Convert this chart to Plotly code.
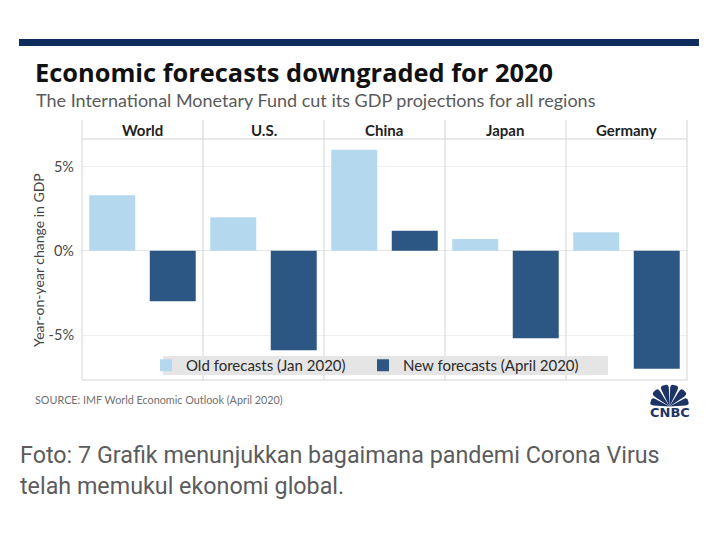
import math
import plotly.graph_objects as go

# The page body has an 8px default margin, so the figure is drawn 8px in
# from the window edge; figure size and pixel mapping account for that.
OFF = 8
W, H = 718 - OFF, 554 - OFF

# ---------------- data ----------------
regions = ["World", "U.S.", "China", "Japan", "Germany"]
old_forecasts = [3.3, 2.0, 6.0, 0.7, 1.1]      # Jan 2020 projections (%)
new_forecasts = [-3.0, -5.9, 1.2, -5.2, -7.0]  # April 2020 projections (%)
series_names = ["Old forecasts (Jan 2020)", "New forecasts (April 2020)"]
bar_slots = ["Old", "New"]
y_tick_values = [-5, 0, 5]
y_tick_labels = ["-5%", "0%", "5%"]

title_text = "Economic forecasts downgraded for 2020"
subtitle_text = "The International Monetary Fund cut its GDP projections for all regions"
y_title = "Year-on-year change in GDP"
source_text = "SOURCE: IMF World Economic Outlook (April 2020)"
caption_lines = ["Foto: 7 Grafik menunjukkan bagaimana pandemi Corona Virus",
                 "telah memukul ekonomi global."]

# ---------------- style ----------------
OLD_COLOR = "#b4d8ee"
NEW_COLOR = "#2c5785"
NAVY = "#0f2d5c"
LINE = "#d4d4d4"
FONT = "Lato, 'Open Sans', sans-serif"
TITLE_FONT = "'Open Sans', Lato, sans-serif"


def px(x):
    return (x - OFF) / W


def py(y):
    return 1 - (y - OFF) / H


PLOT_L, PLOT_R = 82, 687
HEAD_T, PLOT_T, PLOT_B = 120, 139, 380
n = len(regions)
pw = (PLOT_R - PLOT_L) / n
# y range derived from pixel geometry (0% at y=250.85, 16.83 px per %)
zero_px, per_pct = 250.85, 16.83
y_range = [(zero_px - PLOT_B) / per_pct, (zero_px - PLOT_T) / per_pct]

fig = go.Figure()
layout = dict(
    width=W, height=H,
    margin=dict(l=0, r=0, t=0, b=0),
    paper_bgcolor="white", plot_bgcolor="rgba(0,0,0,0)",
    barmode="relative", bargap=0.24,
    showlegend=True,
    legend=dict(orientation="h", x=px(146), y=py(365.5), xanchor="left", yanchor="middle",
                bgcolor="rgba(0,0,0,0)", borderwidth=0,
                font=dict(family=FONT, size=15, color="#2a2a2a"),
                entrywidth=172, entrywidthmode="pixels", traceorder="normal"),
    font=dict(family=FONT),
)

for i, region in enumerate(regions):
    ax = "" if i == 0 else str(i + 1)
    fig.add_trace(go.Bar(x=[bar_slots[0]], y=[old_forecasts[i]], name=series_names[0],
                         marker=dict(color=OLD_COLOR, line=dict(width=0)),
                         legendgroup="old", showlegend=(i == 0),
                         xaxis="x" + ax, yaxis="y" + ax))
    fig.add_trace(go.Bar(x=[bar_slots[1]], y=[new_forecasts[i]], name=series_names[1],
                         marker=dict(color=NEW_COLOR, line=dict(width=0)),
                         legendgroup="new", showlegend=(i == 0),
                         xaxis="x" + ax, yaxis="y" + ax))
    x0 = PLOT_L + i * pw
    layout["xaxis" + ax] = dict(domain=[px(x0), px(x0 + pw)], type="category",
                                categoryorder="array", categoryarray=bar_slots,
                                range=[-0.5, 1.5], showticklabels=False, showgrid=False,
                                zeroline=False, showline=False, fixedrange=True,
                                anchor="y" + ax)
    yax = dict(domain=[py(PLOT_B), py(PLOT_T)], range=y_range, tickvals=y_tick_values,
               ticktext=y_tick_labels, showgrid=True, gridcolor="#efefef", gridwidth=1,
               zeroline=True, zerolinecolor="#e6e6e6", zerolinewidth=1,
               showline=False, fixedrange=True, anchor="x" + ax,
               showticklabels=(i == 0), ticks="", ticklabelstandoff=7,
               tickfont=dict(family=FONT, size=14.5, color="#484848"))
    if i > 0:
        yax["matches"] = "y"
    layout["yaxis" + ax] = yax

shapes = []
# top navy band
shapes.append(dict(type="rect", xref="paper", yref="paper", x0=px(19), x1=px(699),
                   y0=py(46), y1=py(39), fillcolor=NAVY, line=dict(width=0), layer="above"))
# panel dividers / frame
for i in range(n + 1):
    xx = PLOT_L + i * pw
    shapes.append(dict(type="line", xref="paper", yref="paper", x0=px(xx), x1=px(xx),
                       y0=py(PLOT_B), y1=py(HEAD_T), line=dict(color=LINE, width=1), layer="above"))
shapes.append(dict(type="line", xref="paper", yref="paper", x0=px(PLOT_L), x1=px(PLOT_R),
                   y0=py(PLOT_T), y1=py(PLOT_T), line=dict(color=LINE, width=1), layer="above"))
shapes.append(dict(type="line", xref="paper", yref="paper", x0=px(PLOT_L), x1=px(PLOT_R),
                   y0=py(PLOT_B), y1=py(PLOT_B), line=dict(color=LINE, width=1), layer="above"))
# legend background box
shapes.append(dict(type="rect", xref="paper", yref="paper", x0=px(163), x1=px(608),
                   y0=py(375), y1=py(356), fillcolor="#e5e5e5", line=dict(width=0), layer="above"))

# CNBC peacock (six feathers)
bx, by = 669.5, 406.5
for ang, r in zip([-74, -44, -14, 14, 44, 74], [19.5, 21.5, 22, 22, 21.5, 19.5]):
    hw = 12
    a1, a2, ac = math.radians(ang - hw), math.radians(ang + hw), math.radians(ang)
    r1 = r * 0.82
    p1 = (bx + r1 * math.sin(a1), by - r1 * math.cos(a1))
    p2 = (bx + r1 * math.sin(a2), by - r1 * math.cos(a2))
    c1 = (bx + r * 1.05 * math.sin(a1), by - r * 1.05 * math.cos(a1))
    c2 = (bx + r * 1.05 * math.sin(a2), by - r * 1.05 * math.cos(a2))
    tip = (bx + r * math.sin(ac), by - r * math.cos(ac))
    path = (f"M {px(bx)},{py(by)} L {px(p1[0])},{py(p1[1])} "
            f"Q {px(c1[0])},{py(c1[1])} {px(tip[0])},{py(tip[1])} "
            f"Q {px(c2[0])},{py(c2[1])} {px(p2[0])},{py(p2[1])} Z")
    shapes.append(dict(type="path", xref="paper", yref="paper", path=path,
                       fillcolor="#1d3566", line=dict(width=0), layer="above"))
layout["shapes"] = shapes

ann = []
ann.append(dict(text=f"<b>{title_text}</b>", x=px(33), y=py(72), xanchor="left", yanchor="middle",
                font=dict(family=TITLE_FONT, size=25.4, color="#111111")))
ann.append(dict(text=subtitle_text, x=px(34), y=py(100), xanchor="left", yanchor="middle",
                font=dict(family=FONT, size=18, color="#5a5a5a")))
for i, region in enumerate(regions):
    ann.append(dict(text=f"<b>{region}</b>", x=px(PLOT_L + (i + 0.5) * pw), y=py(130),
                    xanchor="center", yanchor="middle",
                    font=dict(family=FONT, size=15, color="#222222")))
ann.append(dict(text=y_title, x=px(38), y=py(260), xanchor="center", yanchor="middle",
                textangle=-90, font=dict(family=FONT, size=14, color="#444444")))
ann.append(dict(text=source_text, x=px(33), y=py(399), xanchor="left", yanchor="middle",
                font=dict(family=FONT, size=10.8, color="#707070")))
ann.append(dict(text="<b>CNBC</b>", x=px(670), y=py(412.5), xanchor="center", yanchor="middle",
                font=dict(family="'DejaVu Sans', sans-serif", size=13, color="#1d3566")))
ann.append(dict(text=caption_lines[0], x=px(18), y=py(455), xanchor="left", yanchor="middle",
                font=dict(family="Roboto, sans-serif", size=23.3, color="#5c5c5c")))
ann.append(dict(text=caption_lines[1], x=px(18), y=py(486), xanchor="left", yanchor="middle",
                font=dict(family="Roboto, sans-serif", size=23.3, color="#5c5c5c")))
for a in ann:
    a.update(xref="paper", yref="paper", showarrow=False)
layout["annotations"] = ann

fig.update_layout(**layout)
fig.write_html("out.html")
